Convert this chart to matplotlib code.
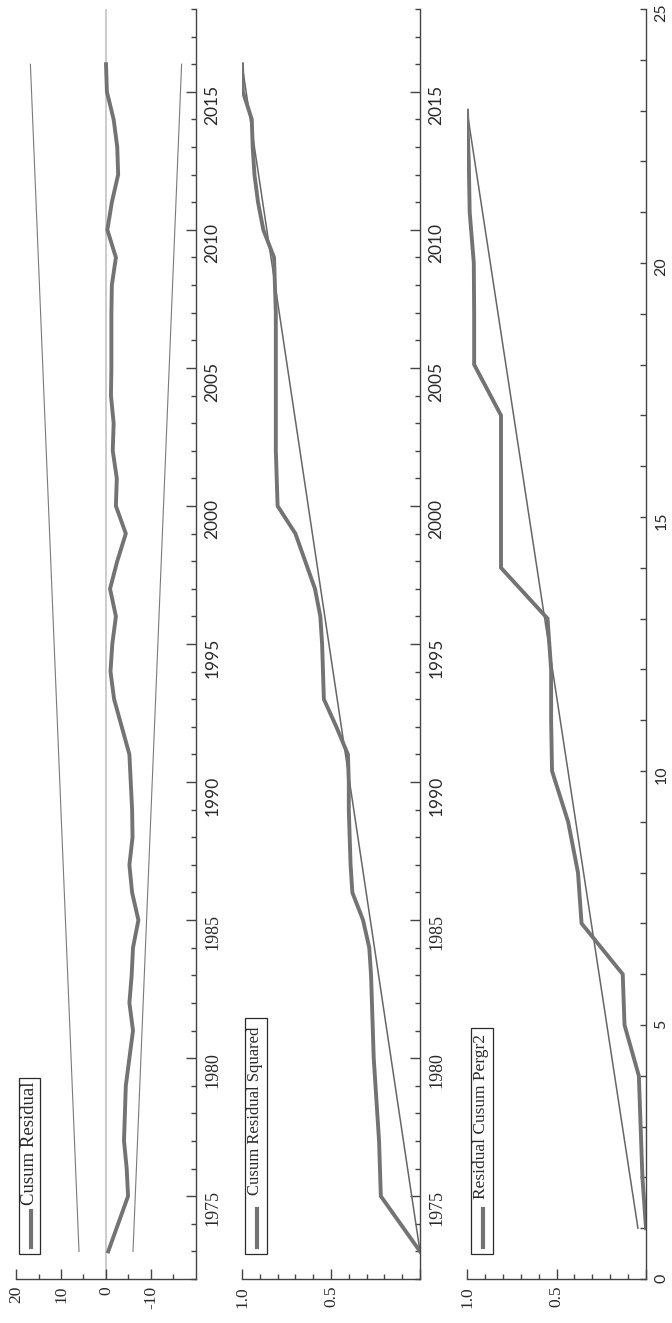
import numpy as np
import matplotlib
from matplotlib import pyplot as plt
from matplotlib.patches import Rectangle
from matplotlib.lines import Line2D

matplotlib.rcParams['font.family'] = ['Liberation Serif', 'DejaVu Serif']
matplotlib.rcParams['axes.unicode_minus'] = False

# cusum of recursive residuals with 5% bounds
years = np.arange(1973, 2017)
cusum = [-0.5, -2.7, -4.9, -4.6, -4.0, -4.2, -4.4, -5.2, -6.0, -5.2, -5.7, -6.0, -7.2,
         -5.8, -5.2, -5.9, -5.8, -5.5, -5.2, -3.5, -1.8, -1.0, -1.4, -2.2, -0.9, -2.5,
         -4.4, -2.2, -2.4, -1.5, -1.7, -1.1, -1.2, -1.2, -1.2, -1.3, -2.2, -0.3, -1.3,
         -2.7, -2.5, -1.7, -0.2, 0.0]
bound_years = [1973, 2016]
upper = [6.0, 16.8]
lower = [-6.0, -16.8]

# cusum of squares
cusumsq = [0.0, 0.11, 0.22, 0.225, 0.23, 0.24, 0.25, 0.26, 0.265, 0.27, 0.275, 0.285,
           0.32, 0.38, 0.39, 0.395, 0.40, 0.40, 0.405, 0.47, 0.54, 0.545, 0.55, 0.56,
           0.59, 0.645, 0.70, 0.80, 0.805, 0.81, 0.81, 0.81, 0.81, 0.81, 0.81, 0.815,
           0.82, 0.88, 0.91, 0.93, 0.94, 0.945, 0.995, 1.0]
sq_ref = [0.0, 1.0]

# residual cusum pergr2 (observation index)
obs = np.arange(1, 24)
pergr = [0.0, 0.02, 0.03, 0.04, 0.12, 0.13, 0.36, 0.38, 0.435, 0.525, 0.53, 0.53,
         0.55, 0.81, 0.81, 0.81, 0.81, 0.96, 0.96, 0.962, 0.985, 0.99, 1.0]
pergr_ref_obs = [1, 23]
pergr_ref = [0.045, 1.0]

THICK = '#737373'
THIN = '#7a7a7a'
TXT = '#2a2a2a'
SANS = 'Lato'
SERIF = 'Liberation Serif'

W, H = 672, 1323
fig = plt.figure(figsize=(W / 100, H / 100), dpi=100)


def box(l, r, t, b):
    return [l / W, 1 - b / H, (r - l) / W, (b - t) / H]


ax1 = fig.add_axes(box(16, 196, 9, 1279))
ax2 = fig.add_axes(box(242, 420, 9, 1279))
ax3 = fig.add_axes(box(467, 646, 9, 1279))

for ax in (ax1, ax2, ax3):
    ax.spines[['left', 'top']].set_visible(False)
    for s in ('bottom', 'right'):
        ax.spines[s].set_color('#444444')
        ax.spines[s].set_linewidth(1)
    ax.yaxis.tick_right()
    ax.tick_params(axis='both', which='both', direction='in', colors='#444444',
                   labelcolor=TXT, width=1)
    ax.tick_params(which='major', length=7)
    ax.tick_params(which='minor', length=3.5)
    ax.tick_params(axis='x', labelrotation=90, pad=5)
    ax.tick_params(axis='y', labelrotation=90, pad=6)

# panel 1
ax1.axvline(0, color='#c4c4c4', lw=1.2, zorder=1)
ax1.plot(upper, bound_years, color=THIN, lw=0.8)
ax1.plot(lower, bound_years, color=THIN, lw=0.8)
ax1.plot(cusum, years, color=THICK, lw=2.8, solid_joinstyle='miter')
ax1.set_xlim(20, -20)
ax1.set_xticks([20, 10, 0, -10], ['20', '10', '0', '-10'], fontsize=12.5)
ax1.set_xticks([15, 5, -5, -15], minor=True)

# panel 2
ax2.plot(sq_ref, bound_years, color='#666666', lw=1.1)
ax2.plot(cusumsq, years, color=THICK, lw=2.8, solid_joinstyle='miter')
ax2.set_xlim(1.0, 0.0)

# panel 3
ax3.plot(pergr_ref, pergr_ref_obs, color='#666666', lw=1.1)
ax3.plot(pergr, obs, color=THICK, lw=2.8, solid_joinstyle='miter')
ax3.set_xlim(1.0, 0.0)
ax3.set_ylim(0, 25)
ax3.set_yticks(np.arange(0, 26, 5), [str(v) for v in range(0, 26, 5)], fontsize=11.5)
ax3.set_yticks(np.arange(0, 26, 1), minor=True)
ax3.tick_params(axis='y', which='both', length=4.5)
for t in ax3.get_yticklabels():
    t.set_family(SANS)

for ax in (ax2, ax3):
    ax.set_xticks([1.0, 0.5, 0.0], ['1.0', '0.5', ''], fontsize=12.5)
    ax.set_xticks(np.arange(0.1, 1.0, 0.1), minor=True)

for ax in (ax1, ax2):
    ax.set_ylim(1972, 2018)
    ticks = list(range(1975, 2016, 5))
    ax.set_yticks(ticks, [str(v) for v in ticks], fontsize=13)
    ax.set_yticks(np.arange(1972, 2019), minor=True)
    for t in ax.get_yticklabels():
        if int(t.get_text()) >= 1990:
            t.set_family(SANS)
            t.set_fontsize(12.5)

for ax in (ax1, ax2, ax3):
    for t in ax.get_xticklabels():
        t.set_family(SERIF)


def legend(x0, x1, y0, y1, hx, hy0, hy1, tx, ty, text, size):
    fig.add_artist(Rectangle((x0 / W, 1 - y1 / H), (x1 - x0) / W, (y1 - y0) / H,
                             transform=fig.transFigure, facecolor='white',
                             edgecolor=TXT, lw=0.9))
    fig.add_artist(Line2D([hx / W, hx / W], [1 - hy0 / H, 1 - hy1 / H],
                          transform=fig.transFigure, color=THICK, lw=3))
    fig.text(tx / W, 1 - ty / H, text, rotation=90, ha='center', va='bottom',
             fontsize=size, color=TXT, family=SERIF)


legend(19, 40, 1078, 1254, 31, 1247, 1211, 29, 1205, 'Cusum Residual', 13.5)
legend(245, 267, 1018, 1254, 257, 1247, 1209, 255, 1195, 'Cusum Residual Squared', 12)
legend(471, 493, 1028, 1254, 483, 1247, 1209, 481, 1199, 'Residual Cusum Pergr2', 12.5)

fig.savefig('out.png', dpi=100, facecolor='white')
